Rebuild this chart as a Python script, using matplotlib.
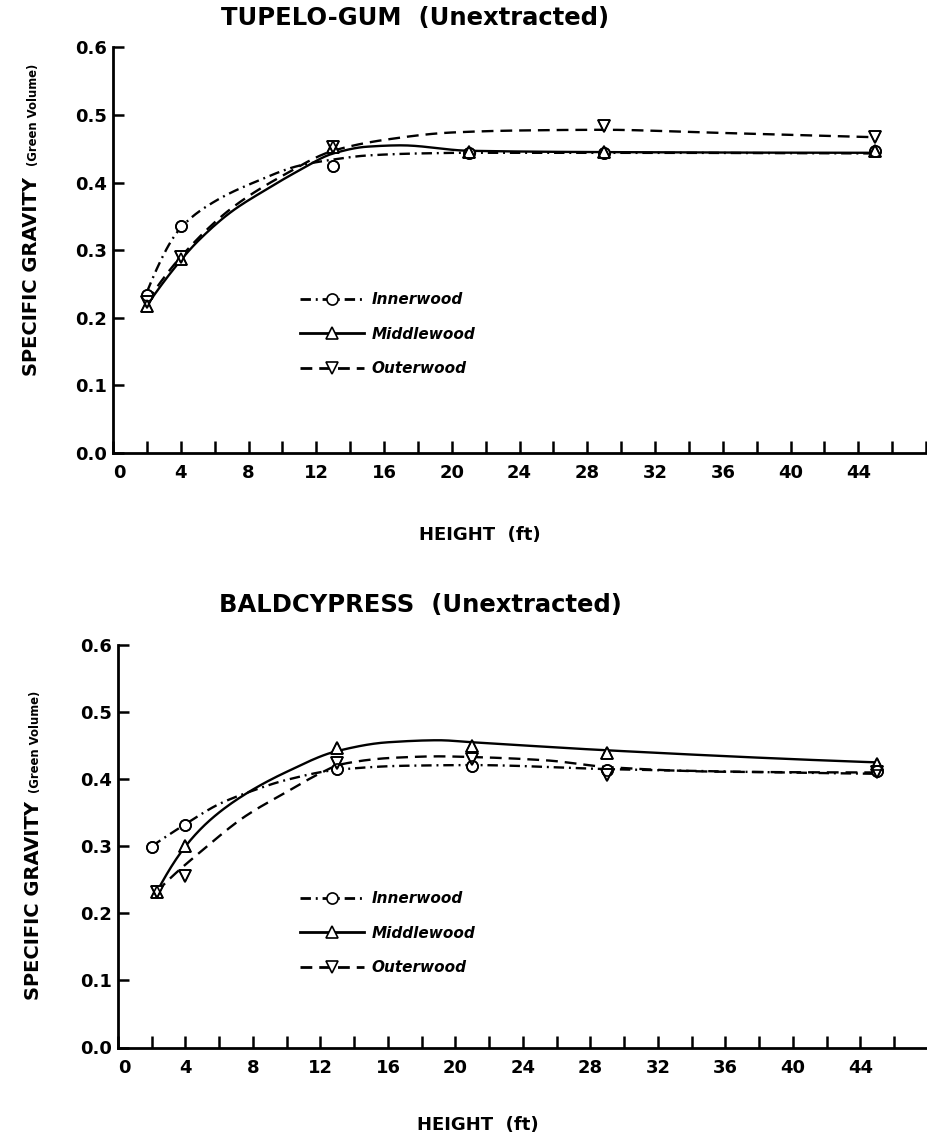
import numpy as np
import matplotlib
matplotlib.use("Agg")
import matplotlib.pyplot as plt
from matplotlib.lines import Line2D
from matplotlib.transforms import ScaledTranslation

plt.rcParams['font.family'] = ['DejaVu Sans']
plt.rcParams['lines.scale_dashes'] = False

# ---------------- data ----------------
heights = [2, 4, 13, 21, 29, 45]

# Tupelo-gum (unextracted) - plotted points
tg_inner_x = [2, 4, 13, 21, 29, 45]
tg_inner = [0.234, 0.335, 0.425, 0.444, 0.444, 0.447]
tg_middle_x = [2, 4, 13, 21, 29, 45]
tg_middle = [0.217, 0.287, 0.452, 0.445, 0.445, 0.447]
tg_outer_x = [2, 4, 13, 29, 45]
tg_outer = [0.224, 0.290, 0.452, 0.483, 0.467]

# Tupelo-gum fitted curves
tg_inner_cx = [2, 4, 6, 8.5, 11, 13, 15, 18, 21, 29, 45]
tg_inner_cy = [0.238, 0.333, 0.372, 0.402, 0.425, 0.434, 0.440, 0.443, 0.444, 0.444, 0.443]
tg_middle_cx = [2, 4, 5, 7, 9, 11, 13, 15, 17, 21, 29, 45]
tg_middle_cy = [0.218, 0.285, 0.313, 0.357, 0.389, 0.418, 0.443, 0.453, 0.455, 0.447, 0.445, 0.444]
tg_outer_cx = [2, 4, 7, 10, 13, 16, 20, 24, 29, 35, 45]
tg_outer_cy = [0.224, 0.290, 0.362, 0.410, 0.447, 0.463, 0.474, 0.477, 0.478, 0.474, 0.467]

# Baldcypress (unextracted) - plotted points
bc_inner_x = [2, 4, 13, 21, 29, 45]
bc_inner = [0.299, 0.332, 0.415, 0.420, 0.413, 0.412]
bc_middle_x = [2.3, 4, 13, 21, 29, 45]
bc_middle = [0.232, 0.300, 0.446, 0.449, 0.439, 0.422]
bc_outer_x = [2.3, 4, 13, 21, 29, 45]
bc_outer = [0.232, 0.255, 0.424, 0.430, 0.406, 0.410]

# Baldcypress fitted curves
bc_inner_cx = [2, 4, 6, 8, 10, 13, 17, 21, 29, 37, 45]
bc_inner_cy = [0.300, 0.333, 0.363, 0.383, 0.399, 0.414, 0.420, 0.421, 0.415, 0.411, 0.408]
bc_middle_cx = [2.3, 4, 5.5, 7.5, 10, 13, 16, 19, 21, 29, 45]
bc_middle_cy = [0.232, 0.300, 0.340, 0.377, 0.411, 0.442, 0.455, 0.458, 0.455, 0.443, 0.425]
bc_outer_cx = [2.3, 3, 5, 7.5, 10, 12, 13.2, 16.4, 19, 21, 25.4, 29, 36, 45]
bc_outer_cy = [0.232, 0.250, 0.294, 0.344, 0.381, 0.409, 0.422, 0.432, 0.434, 0.433, 0.428, 0.418, 0.411, 0.410]

series_labels = ['Innerwood', 'Middlewood', 'Outerwood']
xtick_major = [0, 4, 8, 12, 16, 20, 24, 28, 32, 36, 40, 44]
xtick_minor = [2, 6, 10, 14, 18, 22, 26, 30, 34, 38, 42, 46, 48]
ytick_vals = [0.0, 0.1, 0.2, 0.3, 0.4, 0.5, 0.6]
titles = ['TUPELO-GUM  (Unextracted)', 'BALDCYPRESS  (Unextracted)']
x_title = 'HEIGHT  (ft)'
y_title = 'SPECIFIC GRAVITY'
y_subtitle = '(Green Volume)'


def pchip(x, y, n=300):
    x = np.asarray(x, float)
    y = np.asarray(y, float)
    h = np.diff(x)
    delta = np.diff(y) / h
    m = len(x)
    d = np.zeros(m)
    for k in range(1, m - 1):
        if delta[k - 1] * delta[k] > 0:
            w1 = 2 * h[k] + h[k - 1]
            w2 = h[k] + 2 * h[k - 1]
            d[k] = (w1 + w2) / (w1 / delta[k - 1] + w2 / delta[k])
    def endslope(h0, h1, d0, d1):
        s = ((2 * h0 + h1) * d0 - h0 * d1) / (h0 + h1)
        if np.sign(s) != np.sign(d0):
            s = 0.0
        elif np.sign(d0) != np.sign(d1) and abs(s) > abs(3 * d0):
            s = 3 * d0
        return s
    d[0] = endslope(h[0], h[1], delta[0], delta[1])
    d[-1] = endslope(h[-1], h[-2], delta[-1], delta[-2])
    xn = np.linspace(x[0], x[-1], n)
    idx = np.clip(np.searchsorted(x, xn) - 1, 0, m - 2)
    t = (xn - x[idx]) / h[idx]
    h00 = 2 * t**3 - 3 * t**2 + 1
    h10 = t**3 - 2 * t**2 + t
    h01 = -2 * t**3 + 3 * t**2
    h11 = t**3 - t**2
    yn = h00 * y[idx] + h10 * h[idx] * d[idx] + h01 * y[idx + 1] + h11 * h[idx] * d[idx + 1]
    return xn, yn


LW = 1.7
styles = [
    dict(ls=(0, (7.5, 3.5, 1.4, 3.5)), marker='o', ms=8),
    dict(ls='-', marker='^', ms=9),
    dict(ls=(0, (8.5, 5.0)), marker='v', ms=9),
]

fig = plt.figure(figsize=(9.28, 11.45), dpi=100)
W, H = 928.0, 1145.0


def make_axes(left_px, bottom_px, top_px, xmax):
    ax = fig.add_axes([left_px / W, 1 - bottom_px / H, 1 - left_px / W,
                       (bottom_px - top_px) / H])
    ax.set_xlim(0, xmax)
    ax.set_ylim(0, 0.6)
    for s in ['top', 'right']:
        ax.spines[s].set_visible(False)
    for s in ['left', 'bottom']:
        ax.spines[s].set_linewidth(2.0)
    ax.set_xticks(xtick_major)
    ax.set_xticklabels([str(v) for v in xtick_major])
    ax.set_xticks(xtick_minor, minor=True)
    ax.set_yticks(ytick_vals)
    ax.set_yticklabels(['%.1f' % v for v in ytick_vals])
    ax.tick_params(axis='x', which='both', direction='in', length=9, width=1.8, pad=8)
    ax.tick_params(axis='y', which='both', direction='in', length=8, width=1.8, pad=4.5)
    for lab in ax.get_xticklabels() + ax.get_yticklabels():
        lab.set_fontweight('bold')
        lab.set_fontsize(13)
    first = ax.get_xticklabels()[0]
    first.set_transform(first.get_transform() +
                        ScaledTranslation(0.06, 0, fig.dpi_scale_trans))
    return ax


def draw(ax, curves, points, legend_xy):
    for (cx, cy), st in zip(curves, styles):
        xs, ys = pchip(cx, cy)
        ax.plot(xs, ys, color='black', lw=LW, ls=st['ls'], zorder=2,
                solid_capstyle='butt', dash_capstyle='butt')
    for (px, py), st in zip(points, styles):
        ax.plot(px, py, ls='none', marker=st['marker'], ms=st['ms'],
                mfc='white', mec='black', mew=1.2, zorder=3, clip_on=False)
    for (px, py), st in zip(points, styles):
        ax.plot(px, py, ls='none', marker=st['marker'], ms=st['ms'],
                mfc='none', mec='black', mew=1.2, zorder=4, clip_on=False)
    handles = [Line2D([0], [0], color='black', lw=LW + 0.3, ls=st['ls'],
                      marker=st['marker'], ms=st['ms'], mfc='white',
                      mec='black', mew=1.2) for st in styles]
    ax.legend(handles, series_labels, loc='upper left',
              bbox_to_anchor=(legend_xy[0] / W, 1 - legend_xy[1] / H),
              bbox_transform=fig.transFigure, frameon=False, numpoints=1,
              borderpad=0, borderaxespad=0, handlelength=4.2,
              handletextpad=0.5, labelspacing=1.29,
              prop=dict(family='DejaVu Sans', weight='bold',
                        style='italic', size=11))


def labels(title, title_xy, xlabel_xy, base_x_px, main_y_px, sub_y_px):
    fig.text(title_xy[0] / W, 1 - title_xy[1] / H, title,
             ha='center', va='center', fontsize=17.5, fontweight='bold')
    fig.text(xlabel_xy[0] / W, 1 - xlabel_xy[1] / H, x_title,
             ha='center', va='center', fontsize=13, fontweight='bold')
    fig.text(base_x_px / W, 1 - main_y_px / H, y_title,
             rotation=90, rotation_mode='anchor', ha='center', va='baseline',
             fontsize=14, fontweight='bold')
    fig.text(base_x_px / W, 1 - sub_y_px / H, y_subtitle,
             rotation=90, rotation_mode='anchor', ha='center', va='baseline',
             fontsize=8.4, fontweight='bold')


# ---- top panel ----
ax1 = make_axes(113, 453, 47.3, (928 - 113) / 16.94)
draw(ax1,
     [(tg_inner_cx, tg_inner_cy), (tg_middle_cx, tg_middle_cy), (tg_outer_cx, tg_outer_cy)],
     [(tg_inner_x, tg_inner), (tg_middle_x, tg_middle), (tg_outer_x, tg_outer)],
     (300, 292))
labels(titles[0], (415, 18), (480, 535), 37, 277, 115)

# ---- bottom panel ----
ax2 = make_axes(118, 1047.5, 645, (928 - 118) / 16.93)
draw(ax2,
     [(bc_inner_cx, bc_inner_cy), (bc_middle_cx, bc_middle_cy), (bc_outer_cx, bc_outer_cy)],
     [(bc_inner_x, bc_inner), (bc_middle_x, bc_middle), (bc_outer_x, bc_outer)],
     (300, 891))
labels(titles[1], (420, 605), (478, 1125), 39, 900, 742)

fig.savefig('out.png', dpi=100)
